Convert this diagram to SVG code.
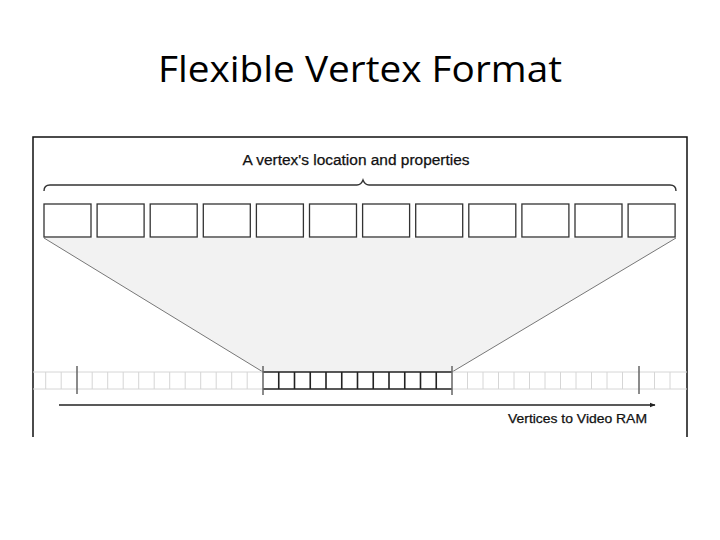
<svg xmlns="http://www.w3.org/2000/svg" width="720" height="540" viewBox="0 0 720 540">
<defs>
<style>
.title{font-family:"Open Sans","Liberation Sans",sans-serif;font-size:36px;fill:#000}
.lbl{font-family:"Liberation Sans",Arial,sans-serif;fill:#111;stroke:#111;stroke-width:0.25}
.box{fill:#fff;stroke:#333;stroke-width:1.3}
.light{fill:none;stroke:#d6d6d6;stroke-width:1}
.dark{fill:none;stroke:#222;stroke-width:1.6}
.tick{stroke:#666;stroke-width:1.5}
</style>
<marker id="ah" viewBox="0 0 10 10" refX="9" refY="5" markerWidth="6" markerHeight="6" orient="auto" markerUnits="userSpaceOnUse">
<path d="M0,1 L10,5 L0,9 z" fill="#222"/>
</marker>
</defs>
<rect width="720" height="540" fill="#fff"/>
<text class="title" x="360" y="82" text-anchor="middle" textLength="404" lengthAdjust="spacingAndGlyphs">Flexible Vertex Format</text>
<path d="M33,437 V137 H687 V437" fill="none" stroke="#111" stroke-width="1.5"/>
<g id="shade">
<path d="M44,238 L263,372 L452,372 L676,238 Z" fill="#f2f2f2" stroke="none"/>
<path d="M44,238 L263,372 M676,238 L452,372" stroke="#777" stroke-width="1" fill="none"/>
</g>
<g id="header">
<text class="lbl" x="356" y="165" text-anchor="middle" font-size="14" textLength="227" lengthAdjust="spacingAndGlyphs">A vertex's location and properties</text>
<path d="M44,191 Q44,185 50,185 H357 Q361,185 363,180 Q365,185 369,185 H670 Q676,185 676,191" fill="none" stroke="#333" stroke-width="1.4"/>
</g>
<g id="vertex-fields">
<rect class="box" x="44" y="204" width="47" height="33"/>
<rect class="box" x="97.1" y="204" width="47" height="33"/>
<rect class="box" x="150.2" y="204" width="47" height="33"/>
<rect class="box" x="203.3" y="204" width="47" height="33"/>
<rect class="box" x="256.4" y="204" width="47" height="33"/>
<rect class="box" x="309.5" y="204" width="47" height="33"/>
<rect class="box" x="362.6" y="204" width="47" height="33"/>
<rect class="box" x="415.7" y="204" width="47" height="33"/>
<rect class="box" x="468.8" y="204" width="47" height="33"/>
<rect class="box" x="521.9" y="204" width="47" height="33"/>
<rect class="box" x="575" y="204" width="47" height="33"/>
<rect class="box" x="628.1" y="204" width="47" height="33"/>
</g>
<g id="memory-strip">
<path class="light" d="M33,372 H263 M33,389 H263 M452,372 H687 M452,389 H687 M45.7,372V389 M61.2,372V389 M92.2,372V389 M107.7,372V389 M123.2,372V389 M138.7,372V389 M154.2,372V389 M169.7,372V389 M185.2,372V389 M200.7,372V389 M216.2,372V389 M231.7,372V389 M247.2,372V389 M467.5,372V389 M483,372V389 M498.5,372V389 M514,372V389 M529.5,372V389 M545,372V389 M560.5,372V389 M576,372V389 M591.5,372V389 M607,372V389 M622.5,372V389 M654.5,372V389 M670,372V389"/>
<path class="dark" d="M263,372 H452 M263,389 H452 M278.75,372V389 M294.5,372V389 M310.25,372V389 M326,372V389 M341.75,372V389 M357.5,372V389 M373.25,372V389 M389,372V389 M404.75,372V389 M420.5,372V389 M436.25,372V389"/>
<path class="tick" d="M77,366V394 M263,366V395 M452,366V395 M639,366V394"/>
</g>
<g id="connectors">
<line x1="59" y1="405" x2="655" y2="405" stroke="#222" stroke-width="1.4" marker-end="url(#ah)"/>
</g>
<text class="lbl" x="647" y="423" text-anchor="end" font-size="12.5" textLength="139" lengthAdjust="spacingAndGlyphs">Vertices to Video RAM</text>
</svg>
